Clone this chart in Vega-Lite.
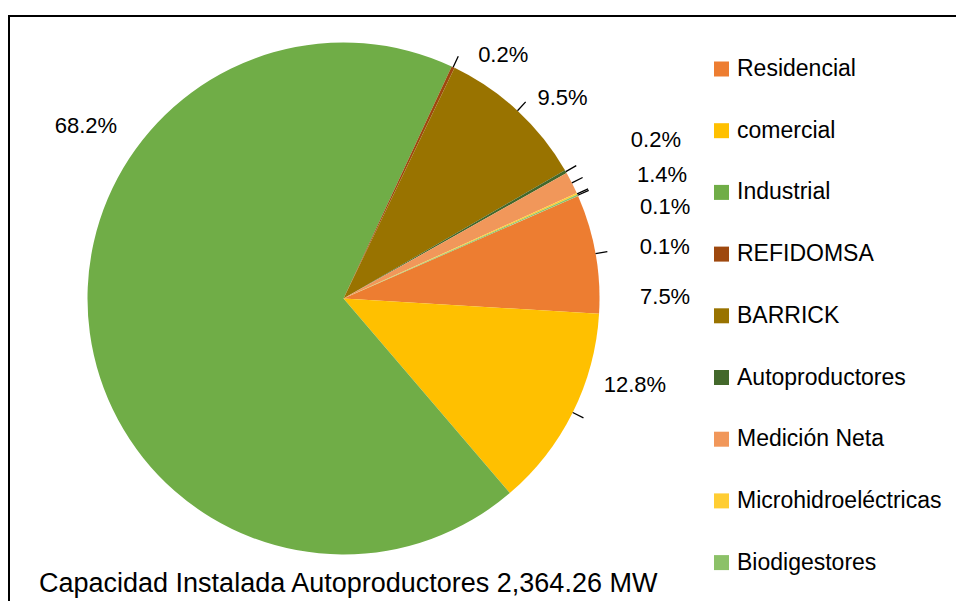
{
  "$schema": "https://vega.github.io/schema/vega-lite/v6.json",
  "width": 947,
  "height": 585,
  "autosize": "none",
  "padding": {"left": 9, "top": 16, "right": 0, "bottom": 0},
  "background": "white",
  "config": {
    "view": {"stroke": null},
    "font": "Liberation Sans"
  },
  "title": {
    "text": "Capacidad Instalada Autoproductores 2,364.26 MW",
    "orient": "bottom",
    "anchor": "start",
    "dx": 31,
    "offset": -10,
    "baseline": "alphabetic",
    "fontSize": 27,
    "fontWeight": "normal",
    "font": "Liberation Sans",
    "color": "black"
  },
  "data": {
    "values": [
      {"cat": "Residencial", "pct": 0.075, "idx": 1},
      {"cat": "comercial", "pct": 0.128, "idx": 2},
      {"cat": "Industrial", "pct": 0.682, "idx": 3},
      {"cat": "REFIDOMSA", "pct": 0.002, "idx": 4},
      {"cat": "BARRICK", "pct": 0.095, "idx": 5},
      {"cat": "Autoproductores", "pct": 0.002, "idx": 6},
      {"cat": "Medición Neta", "pct": 0.014, "idx": 7},
      {"cat": "Microhidroeléctricas", "pct": 0.001, "idx": 8},
      {"cat": "Biodigestores", "pct": 0.001, "idx": 9}
    ]
  },
  "encoding": {
    "theta": {"field": "pct", "type": "quantitative", "stack": true, "scale": {"domain": [0, 1], "range": [1.159, 7.442]}},
    "order": {"field": "idx", "type": "quantitative"}
  },
  "layer": [
    {
      "data": {"values": [{"frame": "border"}]},
      "mark": {"type": "rect", "x": 0, "y": 0, "x2": "width", "y2": "height", "fillOpacity": 0, "stroke": "black", "strokeWidth": 2, "strokeDash": [947, 1532, 585]},
      "encoding": {"theta": null, "order": null}
    },
    {
      "mark": {"type": "arc", "x": 334.5, "y": 282.5, "radius": 256},
      "encoding": {
        "color": {
          "field": "cat",
          "type": "nominal",
          "scale": {
            "domain": ["Residencial", "comercial", "Industrial", "REFIDOMSA", "BARRICK", "Autoproductores", "Medición Neta", "Microhidroeléctricas", "Biodigestores"],
            "range": ["#ED7D31", "#FFC000", "#70AD47", "#9E480E", "#997300", "#43682B", "#F1975A", "#FFCD33", "#8CC168"]
          },
          "legend": {
            "title": null,
            "orient": "none",
            "legendX": 701,
            "legendY": 41.5,
            "padding": 0,
            "symbolType": "square",
            "symbolSize": 225,
            "symbolStrokeWidth": 0,
            "labelFontSize": 23,
            "labelFont": "Liberation Sans",
            "labelColor": "black",
            "labelOffset": 4,
            "labelLimit": 400,
            "rowPadding": 37.7
          }
        }
      }
    },
    {
      "mark": {"type": "arc", "x": 334.5, "y": 282.5, "radius": 268, "radius2": 256, "padAngle": 3.14, "fillOpacity": 0, "stroke": "black", "strokeWidth": 1.3},
      "encoding": {
        "detail": {"field": "cat"},
        "strokeOpacity": {"condition": {"test": "datum.cat === 'Industrial'", "value": 0}, "value": 1}
      }
    },
    {
      "mark": {"type": "text", "x": 334.5, "y": 282.5, "radius": 256, "dx": 44.5, "dy": 43.4, "align": "left", "baseline": "middle", "fontSize": 22, "font": "Liberation Sans", "color": "black"},
      "encoding": {"detail": {"field": "cat"}, "text": {"condition": {"test": "datum.cat === 'Residencial'", "field": "pct", "type": "quantitative", "format": ".1%"}, "value": ""}}
    },
    {
      "mark": {"type": "text", "x": 334.5, "y": 282.5, "radius": 256, "dx": 31, "dy": -28, "align": "left", "baseline": "middle", "fontSize": 22, "font": "Liberation Sans", "color": "black"},
      "encoding": {"detail": {"field": "cat"}, "text": {"condition": {"test": "datum.cat === 'comercial'", "field": "pct", "type": "quantitative", "format": ".1%"}, "value": ""}}
    },
    {
      "mark": {"type": "text", "x": 334.5, "y": 282.5, "radius": 256, "dx": -4, "dy": -207, "align": "center", "baseline": "middle", "fontSize": 22, "font": "Liberation Sans", "color": "black"},
      "encoding": {"detail": {"field": "cat"}, "text": {"condition": {"test": "datum.cat === 'Industrial'", "field": "pct", "type": "quantitative", "format": ".1%"}, "value": ""}}
    },
    {
      "mark": {"type": "text", "x": 334.5, "y": 282.5, "radius": 256, "dx": 25, "dy": -12, "align": "left", "baseline": "middle", "fontSize": 22, "font": "Liberation Sans", "color": "black"},
      "encoding": {"detail": {"field": "cat"}, "text": {"condition": {"test": "datum.cat === 'REFIDOMSA'", "field": "pct", "type": "quantitative", "format": ".1%"}, "value": ""}}
    },
    {
      "mark": {"type": "text", "x": 334.5, "y": 282.5, "radius": 256, "dx": 20, "dy": -13, "align": "left", "baseline": "middle", "fontSize": 22, "font": "Liberation Sans", "color": "black"},
      "encoding": {"detail": {"field": "cat"}, "text": {"condition": {"test": "datum.cat === 'BARRICK'", "field": "pct", "type": "quantitative", "format": ".1%"}, "value": ""}}
    },
    {
      "mark": {"type": "text", "x": 334.5, "y": 282.5, "radius": 256, "dx": 65, "dy": -32, "align": "left", "baseline": "middle", "fontSize": 22, "font": "Liberation Sans", "color": "black"},
      "encoding": {"detail": {"field": "cat"}, "text": {"condition": {"test": "datum.cat === 'Autoproductores'", "field": "pct", "type": "quantitative", "format": ".1%"}, "value": ""}}
    },
    {
      "mark": {"type": "text", "x": 334.5, "y": 282.5, "radius": 256, "dx": 65, "dy": -8, "align": "left", "baseline": "middle", "fontSize": 22, "font": "Liberation Sans", "color": "black"},
      "encoding": {"detail": {"field": "cat"}, "text": {"condition": {"test": "datum.cat === 'Medición Neta'", "field": "pct", "type": "quantitative", "format": ".1%"}, "value": ""}}
    },
    {
      "mark": {"type": "text", "x": 334.5, "y": 282.5, "radius": 256, "dx": 63, "dy": 13, "align": "left", "baseline": "middle", "fontSize": 22, "font": "Liberation Sans", "color": "black"},
      "encoding": {"detail": {"field": "cat"}, "text": {"condition": {"test": "datum.cat === 'Microhidroeléctricas'", "field": "pct", "type": "quantitative", "format": ".1%"}, "value": ""}}
    },
    {
      "mark": {"type": "text", "x": 334.5, "y": 282.5, "radius": 256, "dx": 62, "dy": 52, "align": "left", "baseline": "middle", "fontSize": 22, "font": "Liberation Sans", "color": "black"},
      "encoding": {"detail": {"field": "cat"}, "text": {"condition": {"test": "datum.cat === 'Biodigestores'", "field": "pct", "type": "quantitative", "format": ".1%"}, "value": ""}}
    }
  ]
}
